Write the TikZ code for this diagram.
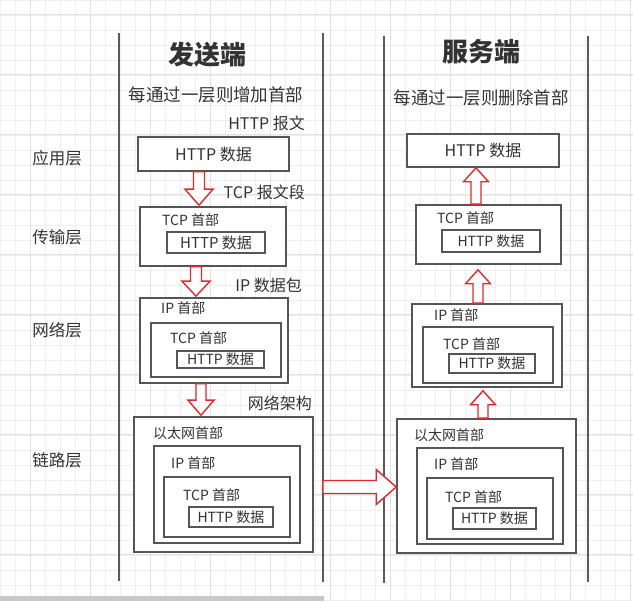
\documentclass[tikz,border=0pt]{standalone}
\usepackage{fontspec}
\setmainfont{Noto Sans CJK SC}
\usetikzlibrary{calc,positioning}

\definecolor{gridmin}{HTML}{EFEFEF}
\definecolor{gridmaj}{HTML}{E2E2E2}
\definecolor{lanegray}{HTML}{5A5A5A}
\definecolor{boxgray}{HTML}{555555}
\definecolor{txtgray}{HTML}{333333}
\definecolor{arrred}{HTML}{E8262A}
\definecolor{bargray}{HTML}{C8C8C8}

\begin{document}
\begin{tikzpicture}[x=1pt, y=-1pt,
    pkt/.style={draw=boxgray, line width=1.6pt, fill=white, inner sep=0pt, text=txtgray},
    hdr/.style={anchor=west, inner sep=0pt, text=txtgray, font=\fontsize{14}{16}\selectfont},
    anno/.style={anchor=east, inner sep=0pt, text=txtgray, font=\fontsize{16}{19}\selectfont},
    layer/.style={inner sep=0pt, text=txtgray, font=\fontsize{16.5}{19}\selectfont},
    title/.style={inner sep=0pt, text=txtgray, font=\fontsize{26}{30}\selectfont\bfseries},
    subtitle/.style={inner sep=0pt, text=txtgray, font=\fontsize{17.5}{20}\selectfont},
    lane/.style={draw=lanegray, line width=2pt},
    blockarr/.style n args={3}{draw=arrred, fill=white, line width=1.4pt, line join=miter,
      to path={let \p1=(\tikztostart), \p2=(\tikztotarget),
        \n1={atan2(\y2-\y1,\x2-\x1)}, \n2={veclen(\x2-\x1,\y2-\y1)} in
        ($(\p1)+({\n1+90}:#1)$) -- ($(\p1)+(\n1:{\n2-#3})+({\n1+90}:#1)$)
        -- ($(\p1)+(\n1:{\n2-#3})+({\n1+90}:#2)$) -- (\p2)
        -- ($(\p1)+(\n1:{\n2-#3})+({\n1-90}:#2)$) -- ($(\p1)+(\n1:{\n2-#3})+({\n1-90}:#1)$)
        -- ($(\p1)+({\n1-90}:#1)$) -- cycle}}
  ]
    \useasboundingbox (0,0) rectangle (633,601);

    % Grid paper
    \foreach \gx in {0,15,...,630} \draw[gridmin, line width=0.8pt] (\gx,0) -- (\gx,601);
    \foreach \gy in {0,15,...,600} \draw[gridmin, line width=0.8pt] (0,\gy) -- (633,\gy);
    \foreach \gx in {30,90,...,630} \draw[gridmaj, line width=1pt] (\gx,0) -- (\gx,601);
    \foreach \gy in {15,75,...,555} \draw[gridmaj, line width=1pt] (0,\gy) -- (633,\gy);
    \fill[bargray] (0,596) rectangle (324,601);

    % Lanes
    \draw[lane] (119,33) -- (119,581);
    \draw[lane] (323,33) -- (323,582);
    \draw[lane] (384,36) -- (384,583);
    \draw[lane] (588,36) -- (588,582);

    % Titles
    \node[title] (sendtitle) at (207,55) {发送端};
    \node[title] (recvtitle) at (481,52) {服务端};
    \node[subtitle] (sendsub) at (216,95) {每通过一层则增加首部};
    \node[subtitle] (recvsub) at (481,98) {每通过一层则删除首部};

    % Layer names
    \node[layer] (app)  at (57,158) {应用层};
    \node[layer] (tran) at (57,237) {传输层};
    \node[layer] (net)  at (57,330) {网络层};
    \node[layer] (link) at (57,460) {链路层};

    % Sender: application
    \node[pkt, minimum width=151pt, minimum height=34pt, font=\fontsize{16}{19}\selectfont]
      (sA) at (213.5,154) {HTTP 数据};
    \node[anno] (sAnno) at (305,123) {HTTP 报文};

    % Sender: transport
    \node[pkt, minimum width=146pt, minimum height=59pt] (sB) at (213,236.5) {};
    \node[hdr] (sBhdr) at (162,220) {TCP 首部};
    \node[pkt, minimum width=98pt, minimum height=21pt, font=\fontsize{15}{17}\selectfont]
      (sBh) at (216,242.5) {HTTP 数据};
    \node[anno] (sBnno) at (305,192) {TCP 报文段};

    % Sender: network
    \node[pkt, minimum width=148pt, minimum height=85pt] (sC) at (214,340.5) {};
    \node[hdr] (sChdr) at (161,308) {IP 首部};
    \node[pkt, minimum width=130pt, minimum height=54pt] (sCt) at (216,350) {};
    \node[hdr] (sCthdr) at (170,338) {TCP 首部};
    \node[pkt, minimum width=87pt, minimum height=17pt, font=\fontsize{14}{16}\selectfont]
      (sCh) at (220.5,359.5) {HTTP 数据};
    \node[anno] (sCnno) at (302,285) {IP 数据包};

    % Sender: link
    \node[pkt, minimum width=179pt, minimum height=135pt] (sD) at (223.5,484.5) {};
    \node[hdr] (sDhdr) at (153,433) {以太网首部};
    \node[pkt, minimum width=146pt, minimum height=97pt] (sDi) at (227,494.5) {};
    \node[hdr] (sDihdr) at (171,463) {IP 首部};
    \node[pkt, minimum width=126pt, minimum height=60pt] (sDt) at (227,507) {};
    \node[hdr] (sDthdr) at (183,495) {TCP 首部};
    \node[pkt, minimum width=84pt, minimum height=20pt, font=\fontsize{14}{16}\selectfont]
      (sDh) at (231,517) {HTTP 数据};
    \node[anno] (sDnno) at (312,403) {网络架构};

    % Receiver: application
    \node[pkt, minimum width=152pt, minimum height=33pt, font=\fontsize{16}{19}\selectfont]
      (rA) at (483,150.5) {HTTP 数据};

    % Receiver: transport
    \node[pkt, minimum width=145pt, minimum height=59pt] (rB) at (488.5,234.5) {};
    \node[hdr] (rBhdr) at (437,218) {TCP 首部};
    \node[pkt, minimum width=98pt, minimum height=22pt, font=\fontsize{14}{16}\selectfont]
      (rBh) at (491,241) {HTTP 数据};

    % Receiver: network
    \node[pkt, minimum width=150pt, minimum height=83pt] (rC) at (487,345.5) {};
    \node[hdr] (rChdr) at (434,315) {IP 首部};
    \node[pkt, minimum width=130pt, minimum height=56pt] (rCt) at (488,355) {};
    \node[hdr] (rCthdr) at (443,344) {TCP 首部};
    \node[pkt, minimum width=86pt, minimum height=19pt, font=\fontsize{14}{16}\selectfont]
      (rCh) at (492,363.5) {HTTP 数据};

    % Receiver: link
    \node[pkt, minimum width=179pt, minimum height=134pt] (rD) at (486.5,486) {};
    \node[hdr] (rDhdr) at (414,435) {以太网首部};
    \node[pkt, minimum width=146pt, minimum height=96pt] (rDi) at (490,496) {};
    \node[hdr] (rDihdr) at (434,464) {IP 首部};
    \node[pkt, minimum width=126pt, minimum height=61pt] (rDt) at (490,508.5) {};
    \node[hdr] (rDthdr) at (445,497) {TCP 首部};
    \node[pkt, minimum width=83pt, minimum height=21pt, font=\fontsize{14}{16}\selectfont]
      (rDh) at (494.5,518.5) {HTTP 数据};

    % Encapsulation arrows (down)
    \draw[blockarr={5.5pt}{14pt}{16pt}] ($(sA.south)+(-14.5,0)$) to ($(sB.north)+(-14,-1)$);
    \draw[blockarr={5.5pt}{14pt}{15pt}] ($(sB.south)+(-17,0)$) to ($(sC.north)+(-18,-1)$);
    \draw[blockarr={5pt}{13pt}{15pt}] ($(sC.south)+(-13,0)$) to ($(sD.north)+(-22.5,-1)$);

    % Transmission
    \draw[blockarr={6.5pt}{17.5pt}{20pt}] ($(sD.east)+(9,2.5)$) to ($(rD.west)+(0,1)$);

    % Decapsulation arrows (up)
    \draw[blockarr={5pt}{12.5pt}{14pt}] ($(rD.north)+(-3.5,0)$) to ($(rC.south)+(-4,3)$);
    \draw[blockarr={5pt}{12.5pt}{14pt}] ($(rC.north)+(-9,0)$) to ($(rB.south)+(-10.5,5)$);
    \draw[blockarr={5pt}{12.5pt}{14pt}] ($(rB.north)+(-12.5,0)$) to ($(rA.south)+(-7,0)$);
  \end{tikzpicture}
\end{document}
